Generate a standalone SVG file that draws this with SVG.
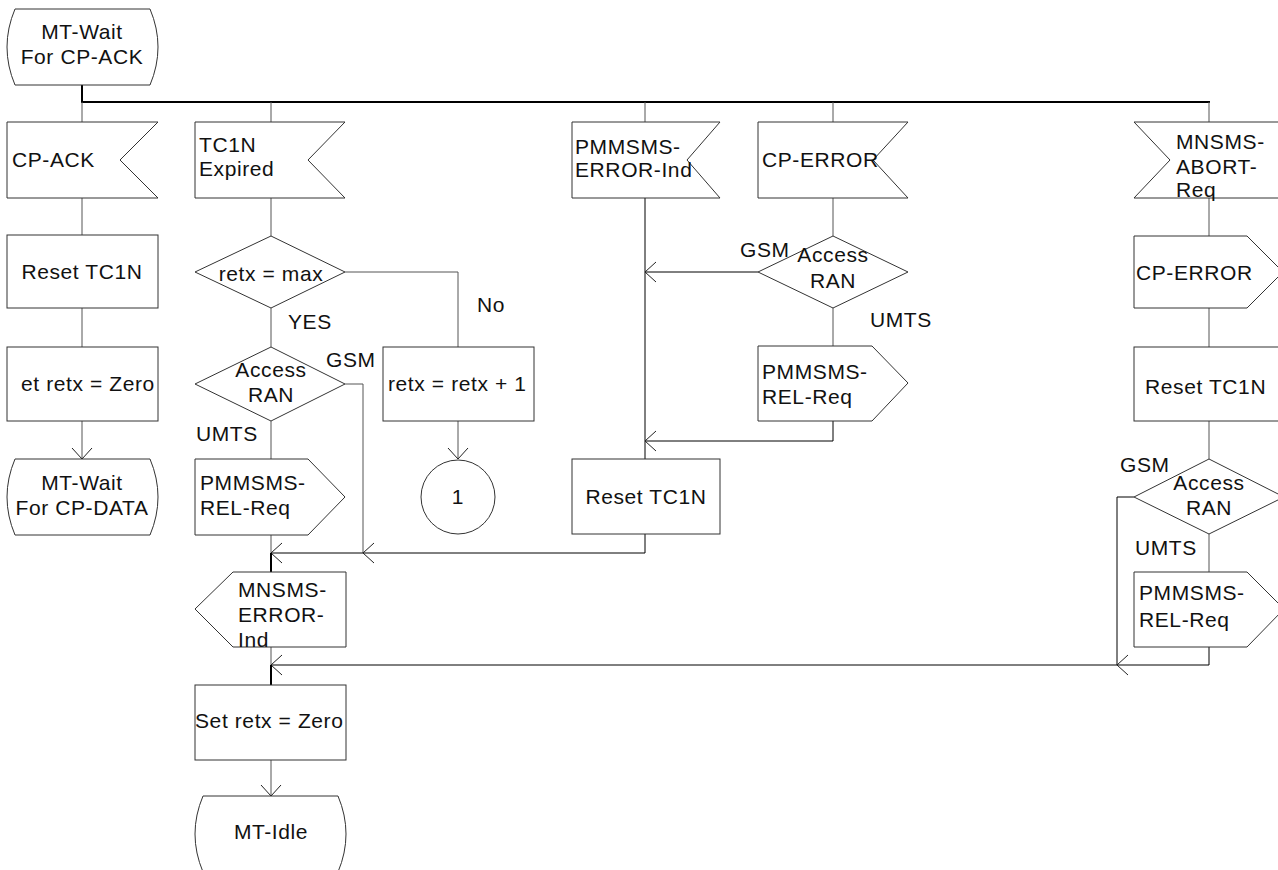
<svg xmlns="http://www.w3.org/2000/svg" width="1278" height="870" viewBox="0 0 1278 870">
<style>
.n{fill:#fff;stroke:#333;stroke-width:1}
.c{fill:none;stroke:#555;stroke-width:1}
.k{fill:none;stroke:#000;stroke-width:1}
.b{fill:none;stroke:#000;stroke-width:2}
text{font-family:"Liberation Sans",Arial,sans-serif;font-size:21px;letter-spacing:0.6px;fill:#111}
.m{text-anchor:middle}
</style>
<defs>
<marker id="ar" markerUnits="userSpaceOnUse" markerWidth="24" markerHeight="24" viewBox="-12 -12 24 24" refX="0" refY="0" orient="auto" overflow="visible">
<path d="M-11,-10 L0,0 L-11,10" fill="none" stroke="#222" stroke-width="1"/>
</marker>
</defs>
<rect width="1278" height="870" fill="#fff"/>
<g id="connectors">
<path class="b" d="M82,85 V102 H1210"/>
<path class="c" d="M82,102 V122 M271,102 V122 M645,102 V122 M833,102 V122 M1209,102 V122"/>
<path class="c" d="M82,198 V235 M82,308 V347"/>
<path class="c" d="M82,421 V459" marker-end="url(#ar)"/>
<path class="c" d="M271,198 V236 M271,308 V347 M271,421 V459 M271,535 V553"/>
<path class="c" d="M345,272 H458 V347"/>
<path class="c" d="M458,421 V459" marker-end="url(#ar)"/>
<path class="c" d="M345,384 H363 V553"/>
<path class="k" d="M645,198 V459"/>
<path class="k" d="M758,272 H645" marker-end="url(#ar)"/>
<path class="c" d="M833,198 V236 M833,308 V346"/>
<path class="k" d="M833,421 V441 H645" marker-end="url(#ar)"/>
<path class="k" d="M645,534 V553 H363" marker-end="url(#ar)"/>
<path class="k" d="M363,553 H271" marker-end="url(#ar)"/>
<path class="b" d="M271,553 V572"/>
<path class="c" d="M271,647 V665"/>
<path class="c" d="M1209,198 V236 M1209,308 V347 M1209,421 V459 M1209,534 V572"/>
<path class="k" d="M1134,497 H1117 V665"/>
<path class="k" d="M1209,647 V665 H1117" marker-end="url(#ar)"/>
<path class="k" d="M1117,665 H271" marker-end="url(#ar)"/>
<path class="b" d="M271,665 V685"/>
<path class="c" d="M271,760 V796" marker-end="url(#ar)"/>
</g>
<g id="wait-cp-ack">
<path class="n" d="M15,9 L150,9 Q166,47 150,85 L15,85 Q-1,47 15,9 Z"/>
<text class="m" x="82" y="39">MT-Wait</text>
<text class="m" x="82" y="64">For CP-ACK</text>
</g>
<g id="cp-ack">
<polygon class="n" points="7,122 158,122 120,160 158,198 7,198"/>
<text x="12" y="167">CP-ACK</text>
</g>
<g id="reset1">
<rect class="n" x="7" y="235" width="151" height="73"/>
<text class="m" x="82" y="279">Reset TC1N</text>
</g>
<g id="setzero1">
<rect class="n" x="7" y="347" width="151" height="74"/>
<text x="21" y="391">et retx = Zero</text>
</g>
<g id="wait-cp-data">
<path class="n" d="M15,459 L150,459 Q166,497 150,535 L15,535 Q-1,497 15,459 Z"/>
<text class="m" x="82" y="490">MT-Wait</text>
<text class="m" x="82" y="515">For CP-DATA</text>
</g>
<g id="tc1n-expired">
<polygon class="n" points="195,122 345,122 308,160 345,198 195,198"/>
<text x="199" y="152">TC1N</text>
<text x="199" y="176">Expired</text>
</g>
<g id="retx-max">
<polygon class="n" points="271,236 345,272 271,308 195,272"/>
<text class="m" x="271" y="281">retx = max</text>
</g>
<g id="access1">
<polygon class="n" points="271,347 345,384 271,421 195,384"/>
<text class="m" x="271" y="377">Access</text>
<text class="m" x="271" y="402">RAN</text>
</g>
<g id="rel1">
<polygon class="n" points="195,459 308,459 345,497 308,535 195,535"/>
<text x="200" y="490">PMMSMS-</text>
<text x="200" y="515">REL-Req</text>
</g>
<g id="retx-inc">
<rect class="n" x="383" y="347" width="151" height="74"/>
<text x="388" y="391">retx = retx + 1</text>
</g>
<g id="conn1">
<circle class="n" cx="458" cy="497" r="37"/>
<text class="m" x="458" y="504">1</text>
</g>
<g id="mnsms-error-ind">
<polygon class="n" points="233,572 346,572 346,647 233,647 195,609"/>
<text x="238" y="597">MNSMS-</text>
<text x="238" y="622">ERROR-</text>
<text x="238" y="647">Ind</text>
</g>
<g id="setzero2">
<rect class="n" x="195" y="685" width="151" height="75"/>
<text x="195" y="728">Set retx = Zero</text>
</g>
<g id="mt-idle">
<path class="n" d="M203,796 L338,796 Q354,834 338,872 L203,872 Q187,834 203,796 Z"/>
<text class="m" x="271" y="839">MT-Idle</text>
</g>
<g id="pmmsms-error-ind">
<polygon class="n" points="572,122 720,122 687,160 720,198 572,198"/>
<text x="575" y="154">PMMSMS-</text>
<text x="575" y="177">ERROR-Ind</text>
</g>
<g id="reset2">
<rect class="n" x="572" y="459" width="148" height="75"/>
<text class="m" x="646" y="504">Reset TC1N</text>
</g>
<g id="cp-error-in">
<polygon class="n" points="758,122 908,122 873,160 908,198 758,198"/>
<text x="762" y="167">CP-ERROR</text>
</g>
<g id="access2">
<polygon class="n" points="833,236 908,272 833,308 758,272"/>
<text class="m" x="833" y="262">Access</text>
<text class="m" x="833" y="288">RAN</text>
</g>
<g id="rel2">
<polygon class="n" points="758,346 872,346 908,383 872,421 758,421"/>
<text x="762" y="379">PMMSMS-</text>
<text x="762" y="404">REL-Req</text>
</g>
<g id="abort-req">
<polygon class="n" points="1134,122 1290,122 1290,198 1134,198 1170,160"/>
<text x="1176" y="149">MNSMS-</text>
<text x="1176" y="174">ABORT-</text>
<text x="1176" y="197">Req</text>
</g>
<g id="cp-error-out">
<polygon class="n" points="1134,236 1247,236 1283,272 1247,308 1134,308"/>
<text x="1136" y="280">CP-ERROR</text>
</g>
<g id="reset3">
<rect class="n" x="1134" y="347" width="156" height="74"/>
<text x="1145" y="394">Reset TC1N</text>
</g>
<g id="access3">
<polygon class="n" points="1209,459 1284,497 1209,534 1134,497"/>
<text class="m" x="1209" y="490">Access</text>
<text class="m" x="1209" y="515">RAN</text>
</g>
<g id="rel3">
<polygon class="n" points="1134,572 1247,572 1284,609 1247,647 1134,647"/>
<text x="1139" y="600">PMMSMS-</text>
<text x="1139" y="627">REL-Req</text>
</g>
<g id="labels">
<text x="288" y="329">YES</text>
<text x="477" y="312">No</text>
<text x="326" y="367">GSM</text>
<text x="196" y="441">UMTS</text>
<text x="740" y="257">GSM</text>
<text x="870" y="327">UMTS</text>
<text x="1120" y="472">GSM</text>
<text x="1135" y="555">UMTS</text>
</g>
</svg>
